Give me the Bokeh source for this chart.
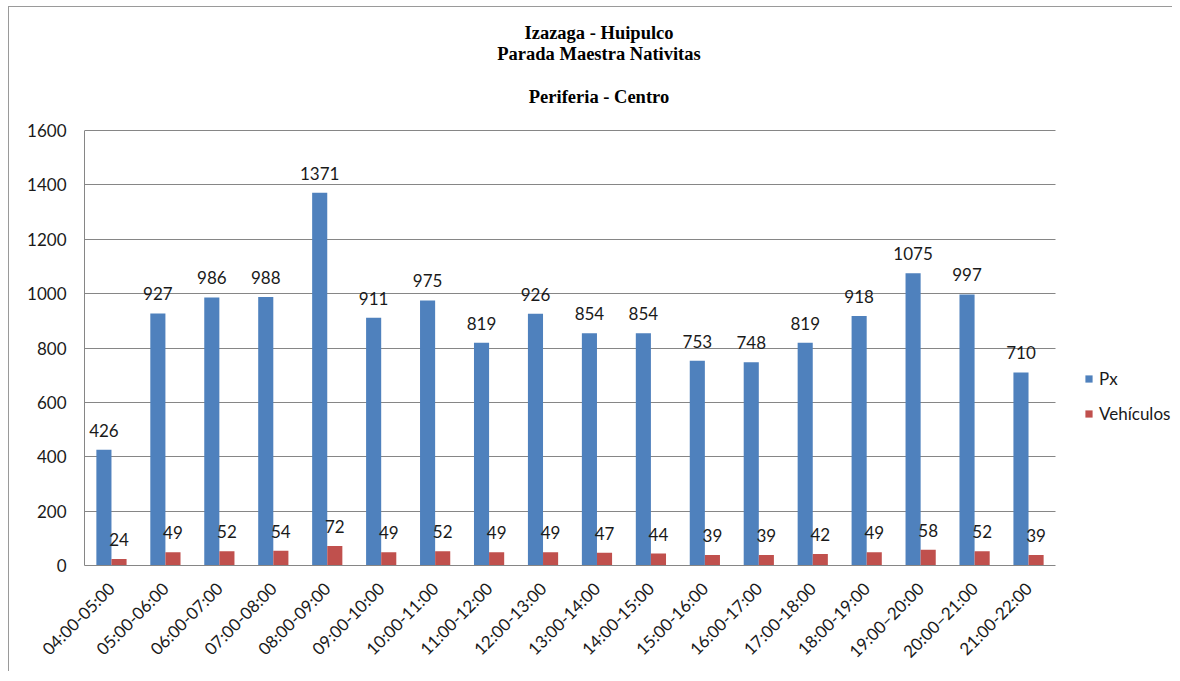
from bokeh.plotting import figure
from bokeh.models import (ColumnDataSource, Range1d, LabelSet, Label, Legend, LegendItem,
                          FixedTicker, CustomJSTickFormatter)
from bokeh.core.properties import value
from bokeh.embed import file_html
from bokeh.resources import INLINE
import math

hours = ["04:00-05:00", "05:00-06:00", "06:00-07:00", "07:00-08:00", "08:00-09:00",
         "09:00-10:00", "10:00-11:00", "11:00-12:00", "12:00-13:00", "13:00-14:00",
         "14:00-15:00", "15:00-16:00", "16:00-17:00", "17:00-18:00", "18:00-19:00",
         "19:00\u201320:00", "20:00\u201321:00", "21:00-22:00"]
px = [426, 927, 986, 988, 1371, 911, 975, 819, 926, 854, 854, 753, 748, 819, 918, 1075, 997, 710]
vehiculos = [24, 49, 52, 54, 72, 49, 52, 49, 49, 47, 44, 39, 39, 42, 49, 58, 52, 39]
series_names = ["Px", "Veh\u00edculos"]
title_lines = ["Izazaga - Huipulco", "Parada Maestra Nativitas", "Periferia - Centro"]
y_ticks = [0, 200, 400, 600, 800, 1000, 1200, 1400, 1600]
y_max = 1600

BLUE = "#4F81BD"
RED = "#C0504D"
GRID = "#868686"
FONT = "Lato"
FS = "17px"

# layout geometry (pixels)
W, H = 1164, 665
BL, BB = 75, 107            # left / bottom borders of the frame
PLOT_W, PLOT_H = 971, 435   # width of category area, height of 0..1600 area
n = len(hours)
frame_w = W - BL
frame_h = H - BB
x_end = 0.5 + frame_w * n / PLOT_W
y_end = frame_h * y_max / PLOT_H

pos = list(range(1, n + 1))
src = ColumnDataSource(dict(
    pos=pos,
    xb=[i - 0.14 for i in pos], xr=[i + 0.14 for i in pos],
    px=px, veh=vehiculos,
    px_lbl=[str(v) for v in px], veh_lbl=[str(v) for v in vehiculos]))

p = figure(x_range=Range1d(0.5, x_end), y_range=Range1d(0, y_end),
           width=W, height=H, output_backend="svg", toolbar_location=None,
           min_border_left=BL, min_border_right=0, min_border_top=0,
           min_border_bottom=BB)
p.title.visible = False
p.styles = {"border-left": "1px solid #9a9a9a", "border-top": "1px solid #9a9a9a",
            "margin-left": "8px", "margin-top": "6px"}
p.outline_line_color = None
p.background_fill_color = "white"
p.border_fill_color = "white"

bw = 0.28
r1 = p.vbar(x="xb", top="px", width=bw, source=src, fill_color=BLUE, line_color=None)
r2 = p.vbar(x="xr", top="veh", width=bw, source=src, fill_color=RED, line_color=None)

for xc, col, lbl in (("xb", "px", "px_lbl"), ("xr", "veh", "veh_lbl")):
    p.add_layout(LabelSet(x=xc, y=col, text=lbl, source=src,
                          text_align="center", text_baseline="alphabetic", y_offset=13,
                          text_font=value(FONT), text_font_size=FS,
                          text_color="#1a1a1a"))

# y axis
p.yaxis.ticker = FixedTicker(ticks=y_ticks)
p.yaxis.bounds = (0, y_max)
p.yaxis.major_tick_line_color = None
p.yaxis.major_tick_out = 0
p.yaxis.major_tick_in = 0
p.yaxis.minor_tick_line_color = None
p.yaxis.axis_line_color = GRID
p.yaxis.major_label_standoff = 18
p.yaxis.major_label_text_font = FONT
p.yaxis.major_label_text_font_size = FS
p.yaxis.major_label_text_color = "#1a1a1a"

# x axis
p.xaxis.ticker = FixedTicker(ticks=pos)
p.xaxis.formatter = CustomJSTickFormatter(
    args=dict(labels=hours), code="return labels[Math.round(tick) - 1] || '';")
p.xaxis.bounds = (0.5, n + 0.5)
p.xaxis.major_tick_line_color = None
p.xaxis.major_tick_out = 0
p.xaxis.major_tick_in = 0
p.xaxis.minor_tick_line_color = None
p.xaxis.axis_line_color = GRID
p.xaxis.major_label_orientation = math.pi / 4
p.xaxis.major_label_standoff = 20
p.xaxis.major_label_text_font = FONT
p.xaxis.major_label_text_font_size = FS
p.xaxis.major_label_text_color = "#1a1a1a"

p.xgrid.grid_line_color = None
try:
    p.ygrid.cross_bounds = (0.5, n + 0.5)
    p.ygrid.grid_line_color = GRID
except Exception:
    p.ygrid.grid_line_color = None
    p.segment(x0=0.5, x1=n + 0.5, y0=y_ticks[1:], y1=y_ticks[1:], line_color=GRID)

# title lines
for txt, yo in zip(title_lines, (98, 77, 34)):
    p.add_layout(Label(x=(n + 1) / 2, y=y_max, x_offset=29, y_offset=yo, text=txt,
                       text_align="center", text_baseline="middle",
                       text_font="Liberation Serif", text_font_style="bold",
                       text_font_size="18.5px", text_color="black"))

legend = Legend(items=[LegendItem(label=series_names[0], renderers=[r1]),
                       LegendItem(label=series_names[1], renderers=[r2])],
                location=(1000, 141), margin=0, padding=0, spacing=14,
                glyph_width=9, glyph_height=9, label_standoff=6,
                label_text_font=FONT, label_text_font_size=FS,
                label_text_color="#1a1a1a", border_line_color=None,
                background_fill_alpha=0)
p.add_layout(legend, "center")

open("out.html", "w").write(file_html(p, INLINE))
